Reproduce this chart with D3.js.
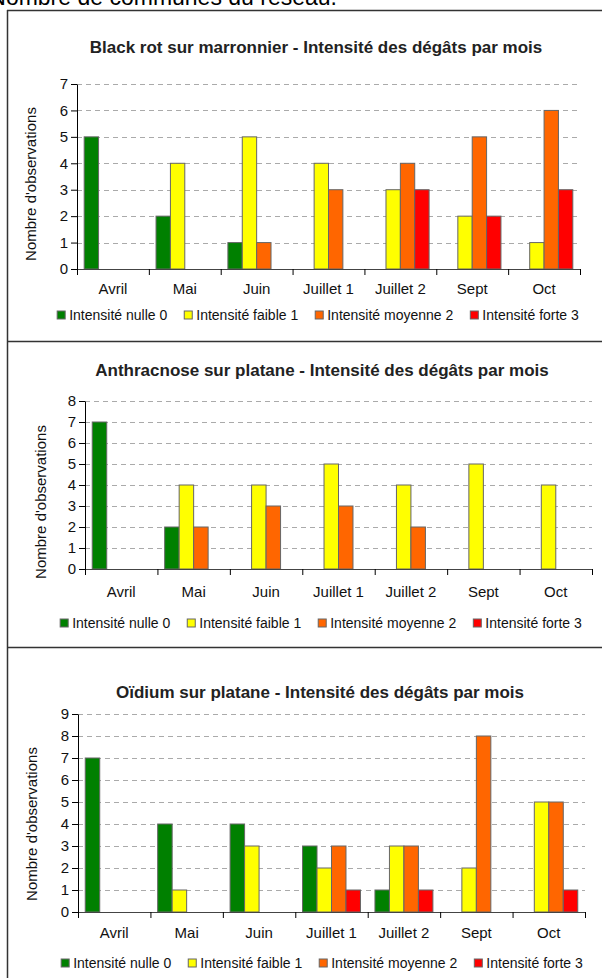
<!DOCTYPE html>
<html><head><meta charset="utf-8">
<script src="https://cdn.jsdelivr.net/npm/d3@7/dist/d3.min.js"></script>
<style>
html,body{margin:0;padding:0;background:#fff;}
svg{display:block;font-family:"Liberation Sans",Arial,sans-serif;}
</style></head>
<body>
<svg id="c" width="602" height="978"></svg>
<script>
// ---- data ----
const months = ["Avril","Mai","Juin","Juillet 1","Juillet 2","Sept","Oct"];
const seriesNames = ["Intensité nulle 0","Intensité faible 1","Intensité moyenne 2","Intensité forte 3"];
const seriesColors = ["#008000","#FFFF00","#FF6600","#FF0000"];

const blackRotTitle = "Black rot sur marronnier - Intensité des dégâts par mois";
const blackRotNulle   = [5,2,1,0,0,0,0];
const blackRotFaible  = [0,4,5,4,3,2,1];
const blackRotMoyenne = [0,0,1,3,4,5,6];
const blackRotForte   = [0,0,0,0,3,2,3];
const blackRotTicks   = [0,1,2,3,4,5,6,7];

const anthracTitle = "Anthracnose sur platane - Intensité des dégâts par mois";
const anthracNulle   = [7,2,0,0,0,0,0];
const anthracFaible  = [0,4,4,5,4,5,4];
const anthracMoyenne = [0,2,3,3,2,0,0];
const anthracForte   = [0,0,0,0,0,0,0];
const anthracTicks   = [0,1,2,3,4,5,6,7,8];

const oidiumTitle = "Oïdium sur platane - Intensité des dégâts par mois";
const oidiumNulle   = [7,4,4,3,1,0,0];
const oidiumFaible  = [0,1,3,2,3,2,5];
const oidiumMoyenne = [0,0,0,3,3,8,5];
const oidiumForte   = [0,0,0,1,1,0,1];
const oidiumTicks   = [0,1,2,3,4,5,6,7,8,9];

const yAxisTitle = "Nombre d'observations";
const headerText = "Nombre de communes du réseau.";

// ---- layout ----
const svg = d3.select("#c");
const font = "Liberation Sans, Arial, sans-serif";

svg.append("text").attr("x",337).attr("y",5).attr("text-anchor","end")
  .attr("font-size",23).attr("fill","#000").text(headerText);

// frame lines
const frameColor = "#333";
svg.append("line").attr("x1",7.5).attr("x2",7.5).attr("y1",10).attr("y2",978).attr("stroke",frameColor).attr("stroke-width",1.5);
[10.5,341.5,647.5].forEach(y=>{
  svg.append("line").attr("x1",7).attr("x2",602).attr("y1",y).attr("y2",y).attr("stroke",frameColor).attr("stroke-width",1.5);
});

const panels = [
  {title:blackRotTitle, series:[blackRotNulle,blackRotFaible,blackRotMoyenne,blackRotForte], ticks:blackRotTicks,
   x0:77, x1:580, yBottom:269, yTop:84, titleX:316, titleY:53, yTitleX:32, yTitleY:184, labelY:294, legendY:320, legendCx:318},
  {title:anthracTitle, series:[anthracNulle,anthracFaible,anthracMoyenne,anthracForte], ticks:anthracTicks,
   x0:85, x1:592, yBottom:569, yTop:401, titleX:322, titleY:376, yTitleX:42, yTitleY:502, labelY:597, legendY:628, legendCx:321},
  {title:oidiumTitle, series:[oidiumNulle,oidiumFaible,oidiumMoyenne,oidiumForte], ticks:oidiumTicks,
   x0:78, x1:585, yBottom:912, yTop:714, titleX:320, titleY:698, yTitleX:33, yTitleY:824, labelY:938, legendY:968, legendCx:322}
];

panels.forEach(p=>{
  const g = svg.append("g");
  const yMax = p.ticks[p.ticks.length-1];
  const x = d3.scaleBand().domain(months).range([p.x0,p.x1]).paddingInner(0).paddingOuter(0);
  const xs = d3.scaleBand().domain(d3.range(4)).range([0,x.bandwidth()]).paddingInner(0).paddingOuter(0.5);
  const y = d3.scaleLinear().domain([0,yMax]).range([p.yBottom,p.yTop]);

  // title
  g.append("text").attr("x",p.titleX).attr("y",p.titleY).attr("text-anchor","middle")
    .attr("font-size",17).attr("font-weight","bold").attr("fill","#222").text(p.title);

  // gridlines
  g.append("g").selectAll("line").data(p.ticks.filter(t=>t>0)).join("line")
    .attr("x1",p.x0).attr("x2",p.x1)
    .attr("y1",d=>Math.round(y(d))+0.5).attr("y2",d=>Math.round(y(d))+0.5)
    .attr("stroke","#aaa").attr("stroke-width",1).attr("stroke-dasharray","5,4");

  // bars
  const data = [];
  months.forEach((m,i)=>p.series.forEach((s,k)=>data.push({m,k,v:s[i]})));
  g.append("g").selectAll("rect").data(data.filter(d=>d.v>0)).join("rect")
    .attr("x",d=>x(d.m)+xs(d.k))
    .attr("y",d=>y(d.v))
    .attr("width",xs.bandwidth())
    .attr("height",d=>y(0)-y(d.v))
    .attr("fill",d=>seriesColors[d.k])
    .attr("stroke","#666").attr("stroke-width",1);

  // y axis
  const ya = g.append("g").attr("transform",`translate(${p.x0},0)`)
    .call(d3.axisLeft(y).tickValues(p.ticks).tickFormat(d3.format("d")).tickSize(6).tickSizeOuter(0).tickPadding(3));
  ya.select(".domain").attr("stroke","#000");
  ya.selectAll(".tick line").attr("stroke","#000");
  ya.selectAll("text").attr("font-size",15).attr("font-family",font).attr("fill","#111");

  // x axis
  const xa = g.append("g").attr("transform",`translate(0,${p.yBottom})`);
  xa.append("line").attr("x1",p.x0).attr("x2",p.x1).attr("y1",0.5).attr("y2",0.5).attr("stroke","#444");
  const bounds = months.map(m=>x(m)).concat([p.x1]);
  xa.selectAll("line.t").data(bounds).join("line").attr("class","t")
    .attr("x1",d=>d+0.5).attr("x2",d=>d+0.5).attr("y1",0).attr("y2",6).attr("stroke","#000");
  g.append("g").selectAll("text").data(months).join("text")
    .attr("x",d=>x(d)+x.bandwidth()/2).attr("y",p.labelY).attr("text-anchor","middle")
    .attr("font-size",15).attr("fill","#111").text(d=>d);

  // y title
  g.append("text").attr("transform",`translate(${p.yTitleX},${p.yTitleY}) rotate(-90)`)
    .attr("text-anchor","middle").attr("dominant-baseline","middle")
    .attr("font-size",15).attr("fill","#111").text(yAxisTitle);

  // legend
  const lg = g.append("g");
  const items = lg.selectAll("g").data(seriesNames).join("g");
  items.append("rect").attr("width",8).attr("height",8).attr("y",-9)
    .attr("fill",(d,i)=>seriesColors[i]).attr("stroke","#666").attr("stroke-width",1);
  items.append("text").attr("x",12).attr("y",0).attr("font-size",14).attr("fill","#111").text(d=>d);
  const widths=[];
  items.each(function(){ widths.push(12 + d3.select(this).select("text").node().getComputedTextLength()); });
  const gap = 17;
  const total = d3.sum(widths) + gap*(widths.length-1);
  const start = p.legendCx - total/2;
  items.attr("transform",(d,i)=>`translate(${start + d3.sum(widths.slice(0,i)) + gap*i},${p.legendY})`);
});
</script>
</body></html>
